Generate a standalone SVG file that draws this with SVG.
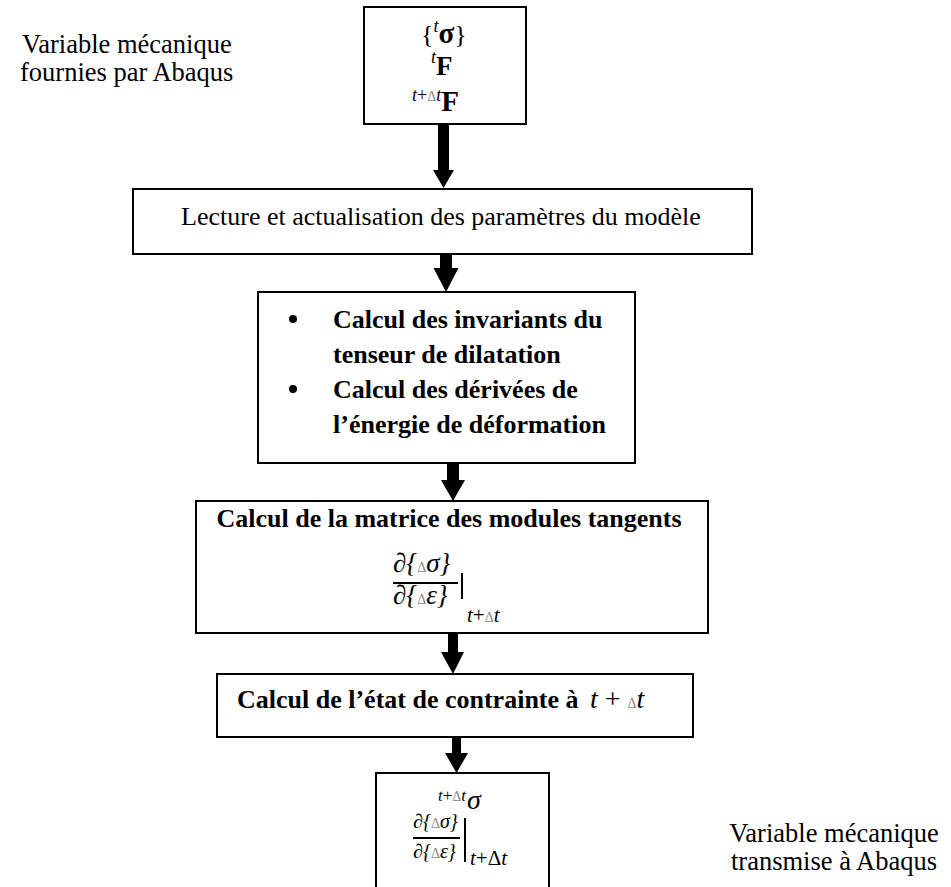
<svg xmlns="http://www.w3.org/2000/svg" width="951" height="887" viewBox="0 0 951 887">
<style>
.box{fill:#fff;stroke:#000;stroke-width:2}
.t{font-family:"Liberation Serif","Times New Roman",serif;font-size:26px;fill:#000}
.s{font-size:26.5px}
.b{font-weight:bold}
.m{font-family:"Liberation Serif","DejaVu Serif",serif;fill:#000}
.i{font-style:italic}
.d{fill:#888;font-size:14px}
.arr{fill:#000;stroke:none}
</style>
<rect width="951" height="887" fill="#fff"/>
<g id="label-in">
<text class="t s" x="22" y="53">Variable mécanique</text>
<text class="t s" x="20" y="81">fournies par Abaqus</text>
</g>
<g id="label-out">
<text class="t s" x="834" y="842" text-anchor="middle">Variable mécanique</text>
<text class="t s" x="834" y="870" text-anchor="middle">transmise à Abaqus</text>
</g>
<g id="n1">
<rect class="box" x="364" y="7" width="162" height="117"/>
<text class="m" x="421" y="43" font-size="26">{<tspan class="i" font-size="18" dy="-11">t</tspan><tspan font-weight="bold" font-size="29" dy="11">σ</tspan>}</text>
<text class="m" x="431" y="75" font-size="27"><tspan class="i" font-size="18" dy="-12">t</tspan><tspan font-weight="bold" dy="12">F</tspan></text>
<text class="m" x="412" y="111" font-size="29"><tspan class="i" font-size="18" dy="-10">t</tspan><tspan font-size="18">+</tspan><tspan class="d">Δ</tspan><tspan class="i" font-size="18">t</tspan><tspan font-weight="bold" dy="10">F</tspan></text>
</g>
<g id="n2">
<rect class="box" x="133" y="189" width="619" height="65"/>
<text class="t" x="441" y="225" text-anchor="middle">Lecture et actualisation des paramètres du modèle</text>
</g>
<g id="n3">
<rect class="box" x="258" y="292" width="377" height="171"/>
<circle cx="293" cy="319" r="4"/>
<circle cx="293" cy="389" r="4"/>
<text class="t b" x="333" y="328">Calcul des invariants du</text>
<text class="t b" x="333" y="363">tenseur de dilatation</text>
<text class="t b" x="333" y="398">Calcul des dérivées de</text>
<text class="t b" x="333" y="433">l’énergie de déformation</text>
</g>
<g id="n4">
<rect class="box" x="196" y="501" width="512" height="132"/>
<text class="t b" x="449" y="527" text-anchor="middle">Calcul de la matrice des modules tangents</text>
<text class="m i" x="393" y="572" font-size="27">∂{<tspan class="d" font-style="normal">Δ</tspan>σ}</text>
<line x1="393" y1="583" x2="458" y2="583" stroke="#000" stroke-width="2"/>
<text class="m i" x="393" y="604" font-size="27">∂{<tspan class="d" font-style="normal">Δ</tspan>ε}</text>
<line x1="462" y1="573" x2="462" y2="599" stroke="#000" stroke-width="2"/>
<text class="m i" x="467" y="622" font-size="21">t<tspan font-style="normal">+</tspan><tspan class="d" font-style="normal">Δ</tspan>t</text>
</g>
<g id="n5">
<rect class="box" x="217" y="674" width="476" height="63"/>
<text class="t b" x="237" y="708">Calcul de l’état de contrainte à</text>
<text class="m i" x="590" y="708" font-size="28">t <tspan font-style="normal">+</tspan> <tspan class="d" font-style="normal" font-size="18">Δ</tspan>t</text>
</g>
<g id="n6">
<rect class="box" x="376" y="773" width="173" height="130"/>
<text class="m i" x="438" y="801" font-size="17">t<tspan font-style="normal">+</tspan><tspan class="d" font-style="normal" font-size="12">Δ</tspan>t</text>
<text class="m i" x="467" y="809" font-size="28">σ</text>
<text class="m i" x="413" y="828" font-size="20">∂{<tspan class="d" font-style="normal" font-size="12">Δ</tspan>σ}</text>
<line x1="413" y1="838" x2="460" y2="838" stroke="#000" stroke-width="2"/>
<text class="m i" x="413" y="858" font-size="20">∂{<tspan class="d" font-style="normal" font-size="12">Δ</tspan>ε}</text>
<line x1="465" y1="818" x2="465" y2="862" stroke="#000" stroke-width="2"/>
<text class="m i" x="470" y="865" font-size="21">t<tspan font-style="normal">+Δ</tspan>t</text>
</g>
<g id="connectors">
<path class="arr" d="M438,124 H449 V170 H454 L443.5,188 L433,170 H438 Z"/>
<path class="arr" d="M440,254 H452 V268 H458.5 L446,292 L433.5,268 H440 Z"/>
<path class="arr" d="M447,463 H459 V480 H465 L453,501 L441,480 H447 Z"/>
<path class="arr" d="M448,634 H458 V652 H464 L453,674 L441,652 H448 Z"/>
<path class="arr" d="M452,738 H461 V753 H468 L456.5,773 L445,753 H452 Z"/>
</g>
</svg>
